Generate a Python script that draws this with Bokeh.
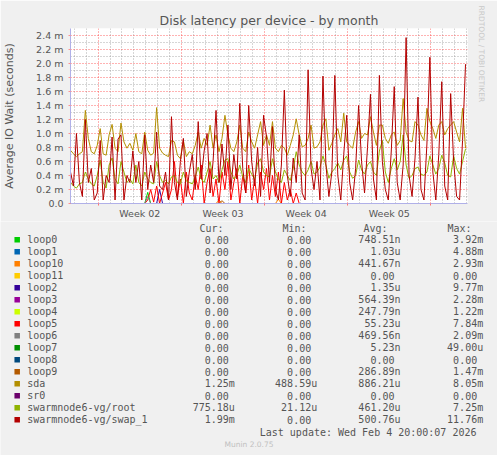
import numpy as np
from bokeh.core.properties import value
from bokeh.embed import file_html
from bokeh.models import ColumnDataSource, FixedTicker, Range1d, Title
from bokeh.plotting import figure
from bokeh.resources import INLINE

# samples every 6h, x in days from Mon Jan 5 2026 00:00 (start of week 02)
N = 134
t = -28 / 12 + 0.25 * np.arange(N)

# values in milliseconds
sda = [0.76, 0.71, 0.67, 0.71, 0.74, 1.33, 0.93, 0.74, 0.71, 0.83,
       1.07, 0.71, 0.69, 0.98, 1.13, 0.79, 0.74, 1.15, 0.88, 0.79,
       0.86, 0.76, 1.00, 0.74, 0.71, 1.02, 0.76, 0.69, 0.72, 1.37,
       0.79, 0.72, 0.69, 0.67, 0.90,
       0.88, 0.69, 0.64, 0.90, 0.67, 0.74, 0.71, 0.83, 1.02, 0.79,
       0.93, 0.83, 1.12, 0.79, 0.98, 0.74, 0.93, 1.26, 0.98, 0.79,
       0.74, 0.88, 1.12, 0.79, 0.74, 1.02, 0.88, 0.79, 0.98, 1.17,
       0.83, 0.98, 0.83,
       1.17, 0.79, 0.74, 0.83, 0.79, 0.69, 0.83, 0.98, 1.21, 0.98,
       0.81, 0.83, 0.93, 1.12, 0.79, 0.81, 0.88, 1.12, 1.21, 0.76,
       0.86, 0.98, 1.07, 0.88, 1.29, 0.88, 0.83, 0.79, 1.02, 1.17,
       0.93, 1.00, 0.98,
       1.24, 1.02, 0.83, 1.12, 1.12, 0.93, 0.86, 0.98, 1.02, 0.83,
       0.90, 1.50, 1.02, 0.90, 0.88, 1.17, 1.12, 0.98, 0.90, 1.36,
       1.17, 1.07, 0.93, 1.12, 1.17, 0.98, 1.07, 1.12, 1.17, 1.02,
       0.88, 1.36, 0.79]

root = [0.30, 0.25, 0.22, 0.28, 0.30, 0.45, 0.35, 0.28, 0.25, 0.40,
        0.62, 0.30, 0.22, 0.55, 0.65, 0.35, 0.28, 0.60, 0.45, 0.30,
        0.35, 0.28, 0.55, 0.30, 0.25, 0.45, 0.35, 0.30, 0.28, 0.60,
        0.40, 0.30, 0.33, 0.28, 0.38,
        0.40, 0.30, 0.28, 0.45, 0.32, 0.30, 0.28, 0.38, 0.52, 0.35,
        0.30, 0.45, 0.60, 0.35, 0.40, 0.30, 0.48, 0.62, 0.64, 0.45,
        0.35, 0.40, 0.55, 0.38, 0.30, 0.50, 0.42, 0.35, 0.58, 0.64,
        0.45, 0.40, 0.38,
        0.64, 0.45, 0.35, 0.30, 0.48, 0.40, 0.33, 0.50, 0.74, 0.55,
        0.45, 0.40, 0.48, 0.60, 0.42, 0.45, 0.52, 0.68, 0.55, 0.36,
        0.45, 0.50, 0.58, 0.48, 0.62, 0.68, 0.45, 0.36, 0.40, 0.62,
        0.48, 0.42, 0.55,
        0.60, 0.45, 0.40, 0.75, 0.90, 0.45, 0.30, 0.50, 0.64, 0.48,
        0.60, 0.98, 0.55, 0.36, 0.40, 0.50, 0.52, 0.42, 0.40, 0.45,
        0.68, 0.55, 0.42, 0.50, 0.69, 0.58, 0.40, 0.38, 0.68, 0.50,
        0.42, 0.60, 0.78]

swap_1 = [0.45, 0.25, 1.00, 0.30, 0.10, 1.20, 0.30, 0.50, 0.05, 0.15,
          0.90, 0.05, 0.40, 0.30, 0.95, 0.05, 0.92, 0.98, 0.05, 0.40,
          0.30, 0.75, 0.30, 0.60, 0.05, 0.98, 0.20, 0.55, 0.30, 1.02,
          0.25, 0.20, 0.45, 0.05, 1.24,
          0.30, 0.05, 0.60, 0.93, 0.10, 0.45, 0.70, 0.20, 1.17, 0.35,
          0.75, 1.00, 0.15, 0.60, 1.33, 0.30, 0.85, 0.40, 1.12, 0.20,
          0.70, 0.35, 1.43, 0.50, 0.15, 1.40, 0.60, 0.25, 0.80, 0.10,
          1.26, 0.95, 0.30,
          1.10, 0.20, 0.05, 0.55, 1.62, 0.40, 0.10, 0.65, 0.30, 0.98,
          0.15, 0.05, 1.91, 0.50, 0.20, 0.60, 0.05, 1.82, 0.55, 0.10,
          0.45, 1.83, 0.40, 0.05, 0.70, 1.26, 0.30, 0.05, 0.50, 1.40,
          0.60, 0.15, 0.80,
          1.56, 0.35, 0.05, 1.83, 0.60, 0.20, 0.05, 0.75, 1.67, 0.30,
          0.05, 0.55, 2.37, 0.40, 0.10, 0.65, 1.52, 0.20, 0.05, 0.85,
          2.09, 0.45, 0.05, 0.70, 1.74, 0.25, 0.05, 1.57, 0.60, 0.10,
          0.05, 0.90, 1.99]

loop5 = [0.0] * 26 + [
    0.05, 0.20, 0.02, 0.25, 0.00, 0.15, 0.30, 0.05, 0.20, 0.60,
    0.10, 0.35, 0.00, 0.45, 0.15, 0.05, 0.40, 0.20, 0.55, 0.00,
    0.30, 0.50, 0.10, 0.35, 0.00, 0.45, 0.20, 0.60, 0.05, 0.30,
    0.50, 0.00, 0.40, 0.15, 0.55, 0.05, 0.35, 0.00, 0.45, 0.20,
    0.50, 0.05, 0.40, 0.10, 0.45, 0.00, 0.30, 0.05, 0.20, 0.00,
    0.15] + [0.0] * 57


def spikes(d):
    a = [0.0] * N
    for i, v in d.items():
        a[i] = v
    return a


loop0 = spikes({26: 0.16})
loop2 = spikes({30: 0.20})
loop6 = spikes({26: 0.10})
loop9 = spikes({51: 0.04})
loop10 = spikes({50: 0.05, 70: 0.06})
flat = [0.0] * N  # loop1, loop3, loop4, loop7, loop8, loop11, sr0 stay at zero

names = ["loop0", "loop1", "loop10", "loop11", "loop2", "loop3", "loop4", "loop5",
         "loop6", "loop7", "loop8", "loop9", "sda", "sr0",
         "swarmnode6-vg/root", "swarmnode6-vg/swap_1"]
series = [loop0, flat, loop10, flat, loop2, flat, flat, loop5,
          loop6, flat, flat, loop9, sda, flat, root, swap_1]
colors = ["#00cc00", "#0066b3", "#ff8000", "#ffcc00", "#330099", "#990099", "#ccff00", "#ff0000",
          "#808080", "#008f00", "#00487d", "#b35a00", "#b38f00", "#6b006b", "#8fb300", "#b30000"]

cur = ["0.00", "0.00", "0.00", "0.00", "0.00", "0.00", "0.00", "0.00",
       "0.00", "0.00", "0.00", "0.00", "1.25m", "0.00", "775.18u", "1.99m"]
mins = ["0.00", "0.00", "0.00", "0.00", "0.00", "0.00", "0.00", "0.00",
        "0.00", "0.00", "0.00", "0.00", "488.59u", "0.00", "21.12u", "0.00"]
avgs = ["748.51n", "1.03u", "441.67n", "0.00", "1.35u", "564.39n", "247.79n", "55.23u",
        "469.56n", "5.23n", "0.00", "286.89n", "886.21u", "0.00", "461.20u", "500.76u"]
maxs = ["3.92m", "4.88m", "2.93m", "0.00", "9.77m", "2.28m", "1.22m", "7.84m",
        "2.09m", "49.00u", "0.00", "1.47m", "8.05m", "0.00", "7.25m", "11.76m"]

y_ticks = [0, 0.2, 0.4, 0.6, 0.8, 1.0, 1.2, 1.4, 1.6, 1.8, 2.0, 2.2, 2.4]
y_labels = ["0.0", "0.2 m", "0.4 m", "0.6 m", "0.8 m", "1.0 m", "1.2 m", "1.4 m",
            "1.6 m", "1.8 m", "2.0 m", "2.2 m", "2.4 m"]
week_starts = [0, 7, 14, 21, 28]
week_labels = ["Week 02", "Week 03", "Week 04", "Week 05"]

AXIS = "#b0b0e8"
TEXT = "#555555"

x0, x1 = -28 / 12, -28 / 12 + 401 / 12
chart = figure(width=497, height=221, output_backend="svg", toolbar_location=None,
               x_range=Range1d(x0, x1), y_range=Range1d(0, 2.5),
               min_border_left=67, min_border_right=29, min_border_top=28, min_border_bottom=18,
               background_fill_color="white", border_fill_color="#f0f0f0",
               outline_line_color=None, title="Disk latency per device - by month")
chart.title.align = "center"
chart.title.text_font = "DejaVu Sans"
chart.title.text_font_size = "12.5px"
chart.title.text_font_style = "normal"
chart.title.text_color = TEXT
chart.title.standoff = 2

chart.add_layout(Title(text="RRDTOOL / TOBI OETIKER", align="left", standoff=19, offset=-23,
                       text_font="DejaVu Sans", text_font_size="7.5px",
                       text_font_style="normal", text_color="#c8c8c8"), "right")

for vals, c in zip(series, colors):
    src = ColumnDataSource(dict(t=t, v=vals))
    chart.line("t", "v", source=src, line_color=c, line_width=1)

# axes
chart.axis.axis_line_color = AXIS
chart.axis.major_label_text_font = "DejaVu Sans"
chart.axis.major_label_text_font_size = "9.5px"
chart.axis.major_label_text_color = TEXT

chart.yaxis.ticker = FixedTicker(ticks=y_ticks, minor_ticks=[round(0.1 + 0.2 * k, 1) for k in range(13)])
chart.yaxis.major_label_overrides = dict(zip(y_ticks, y_labels))
chart.yaxis.major_tick_out = 2
chart.yaxis.major_tick_in = 0
chart.yaxis.minor_tick_out = 0
chart.yaxis.minor_tick_in = 0
chart.yaxis.major_tick_line_color = "#ff9090"
chart.yaxis.major_label_standoff = 5
chart.yaxis.axis_label = "Average IO Wait (seconds)"
chart.yaxis.axis_label_text_font = "DejaVu Sans"
chart.yaxis.axis_label_text_font_size = "11px"
chart.yaxis.axis_label_text_font_style = "normal"
chart.yaxis.axis_label_text_color = TEXT
chart.yaxis.axis_label_standoff = 17

mid_weeks = [w + 3.5 for w in week_starts[:-1]]
chart.xaxis.ticker = FixedTicker(ticks=mid_weeks, minor_ticks=week_starts)
chart.xaxis.major_label_overrides = dict(zip(mid_weeks, week_labels))
chart.xaxis.major_tick_out = 0
chart.xaxis.major_tick_in = 0
chart.xaxis.minor_tick_out = 2
chart.xaxis.minor_tick_in = 0
chart.xaxis.minor_tick_line_color = "#ff7070"
chart.xaxis.major_label_standoff = 2

# grid: red dotted on weeks / 0.2 m, grey dotted on days / 0.1 m
chart.xgrid.ticker = FixedTicker(ticks=week_starts,
                                 minor_ticks=[d for d in range(-2, 32) if d % 7 != 0])
for g in (chart.xgrid, chart.ygrid):
    g.grid_line_color = "#ff3030"
    g.grid_line_alpha = 0.75
    g.grid_line_dash = "1 2"
    g.minor_grid_line_color = "#909090"
    g.minor_grid_line_alpha = 0.75
    g.minor_grid_line_dash = "1 2"

# legend table below the graph (coordinates in page pixels)
table = figure(width=497, height=234, output_backend="svg", toolbar_location=None,
               x_range=Range1d(0, 497), y_range=Range1d(455, 221),
               x_axis_location=None, y_axis_location=None, min_border=0, title=None,
               background_fill_color="#f0f0f0", border_fill_color="#f0f0f0",
               outline_line_color=None)
table.grid.visible = False

row_y = [239.3 + 12 * k for k in range(len(names))]
mono = dict(text_font=value("DejaVu Sans Mono"), text_font_size="10px", text_color=TEXT,
            text_baseline="middle")

table.rect(x="x", y="y", width=5.5, height=5.5, fill_color="c", line_color=None,
           source=ColumnDataSource(dict(x=[16.7] * len(names), y=row_y, c=colors)))
table.text(x=[26.7] * len(names), y=row_y, text=names, text_align="left", **mono)
table.text(x=[199, 282, 363, 447], y=[228] * 4, text=["Cur:", "Min:", "Avg:", "Max:"],
           text_align="left", **mono)

for col, right in ((cur, 234.3), (mins, 316.7), (avgs, 400.0), (maxs, 482.7)):
    xs = [right if s[-1].isalpha() else right - 6 for s in col]
    table.text(x=xs, y=row_y, text=col, text_align="right", **mono)

table.text(x=[482], y=[431.7], text=["Last update: Wed Feb  4 20:00:07 2026"],
           text_align="right", **mono)
table.text(x=[248.5], y=[444], text=["Munin 2.0.75"], text_align="center", text_baseline="middle",
           text_font=value("DejaVu Sans"), text_font_size="7.5px", text_color="#c0c0c0")

# two separate roots, so the legend's frame is not aligned to the graph's frame
p = [chart, table]
open("out.html", "w").write(file_html(p, INLINE))
